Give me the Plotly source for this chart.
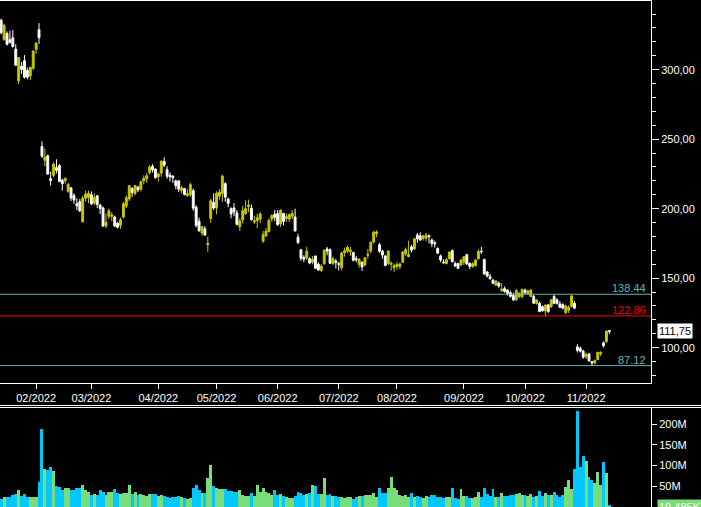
import pandas as pd
import plotly.graph_objects as go

# ---------------- data ----------------
holidays = ["2022-01-17", "2022-02-21", "2022-04-15", "2022-05-30",
            "2022-06-20", "2022-07-04", "2022-09-05"]
dates = [d.strftime("%Y-%m-%d") for d in pd.bdate_range("2022-01-13", "2022-11-11")
         if d.strftime("%Y-%m-%d") not in holidays]

opens = [
    335.5, 321.5, 326.0, 321.5, 322.9, 314.8, 292.0, 302.5, 306.5, 299.5, 295.5, 301.0,
    314.6, 328.8, 244.7, 234.8, 238.0, 221.6, 224.0, 229.5, 231.0, 220.5, 220.0, 212.5,
    215.0, 209.5, 203.5, 205.0, 190.5, 207.5, 208.0,
    210.0, 204.0, 209.3, 202.5, 200.5, 187.5, 194.5, 194.5, 194.0, 189.5, 188.0, 194.0,
    202.0, 207.0, 214.5, 211.0, 215.5, 214.0, 220.0, 221.5, 226.0, 230.5, 228.5,
    223.0, 225.5, 234.0, 228.0, 224.0, 223.5, 220.0, 220.0, 213.0, 214.5, 209.5, 210.0,
    213.0, 201.0, 191.0, 182.5, 185.5, 174.0, 193.0, 204.5,
    200.5, 209.0, 211.0, 218.0, 207.0, 200.0, 200.5, 197.0, 187.0, 192.0, 196.5, 201.5,
    200.3, 190.5, 191.5, 192.5, 176.5, 180.5, 183.5, 192.5, 196.0,
    196.5, 189.0, 196.5, 193.0, 192.5, 194.5, 194.0, 179.5, 170.5, 165.0, 164.5, 164.0,
    161.5, 166.0, 160.0, 155.5, 160.5, 171.0, 170.5, 160.5, 162.3,
    160.5, 157.5, 168.5, 169.5, 169.0, 168.5, 164.0, 160.0, 161.5, 159.5, 166.5, 169.5,
    176.0, 182.0, 174.0, 169.5, 166.0, 160.5, 160.0, 157.5,
    158.5, 158.2, 161.5, 167.5, 165.5, 172.5, 171.0, 181.0, 180.5, 178.5, 178.8, 180.5,
    177.5, 175.5, 171.5, 166.0, 161.5, 160.5, 164.0, 170.0, 160.5, 160.5, 159.5,
    161.5, 167.0, 160.5, 158.5, 159.0, 164.0, 169.5, 163.5, 154.5, 151.0, 148.5, 145.0,
    146.5, 140.9, 142.5, 141.5, 139.5, 137.5, 134.5, 136.8, 136.8,
    141.5, 139.0, 136.8, 136.8, 131.9, 131.9, 129.5, 126.5, 130.8, 129.6, 136.8, 134.4,
    131.5, 131.0, 125.3, 127.0, 129.6, 131.9, 100.5, 99.5, 97.5,
    93.5, 95.5, 90.0, 89.0, 91.5, 95.5, 103.5, 104.5, 112.3,
]
highs = [
    336.8, 333.0, 327.5, 328.0, 328.5, 318.3, 309.0, 305.5, 310.5, 301.5, 302.0, 314.0,
    319.9, 333.5, 248.5, 243.2, 239.0, 226.6, 233.5, 235.5, 232.0, 221.5, 222.5, 218.5,
    215.5, 211.0, 207.5, 207.0, 209.0, 213.0, 213.0,
    212.5, 211.0, 209.5, 203.5, 201.5, 196.5, 200.0, 197.5, 195.0, 190.5, 193.5, 205.0,
    209.5, 217.0, 215.5, 217.0, 216.5, 220.0, 224.0, 225.5, 231.5, 232.0, 229.0,
    226.0, 235.0, 236.9, 230.5, 226.0, 224.0, 221.0, 220.5, 216.5, 215.0, 214.0, 218.5,
    214.5, 202.5, 193.5, 187.5, 187.5, 180.0, 207.0, 211.0,
    212.5, 214.0, 224.5, 219.0, 208.0, 201.0, 204.0, 199.0, 193.0, 202.0, 206.0, 206.5,
    203.0, 195.0, 196.5, 197.5, 184.0, 186.0, 193.0, 195.8, 199.0,
    199.0, 199.5, 197.0, 196.5, 196.5, 199.0, 200.0, 182.0, 171.0, 166.5, 172.5, 165.0,
    166.0, 166.0, 161.5, 160.0, 170.5, 172.5, 171.5, 165.5, 164.0,
    162.0, 169.0, 172.0, 173.5, 172.5, 169.0, 166.0, 164.5, 162.0, 165.0, 171.0, 176.5,
    184.0, 184.5, 175.5, 170.5, 166.5, 170.0, 162.0, 160.5,
    161.5, 161.0, 169.5, 172.0, 177.0, 174.0, 179.0, 182.5, 183.0, 181.0, 182.5, 181.5,
    178.5, 177.0, 172.0, 167.0, 163.5, 164.5, 169.0, 170.5, 162.0, 161.0, 164.0,
    165.8, 167.5, 161.5, 161.5, 163.5, 171.0, 172.5, 164.0, 155.0, 153.0, 149.5, 148.5,
    147.5, 146.5, 144.0, 142.0, 141.0, 139.5, 142.0, 140.0, 142.5,
    142.5, 141.8, 142.0, 138.0, 134.5, 133.0, 130.5, 131.0, 131.5, 135.0, 138.5, 135.5,
    133.5, 132.0, 131.0, 130.5, 138.44, 133.5, 102.5, 101.0, 98.5,
    96.5, 96.0, 90.5, 91.5, 97.0, 97.5, 104.5, 112.5, 112.6,
]
lows = [
    325.5, 321.0, 317.5, 318.9, 315.9, 303.0, 289.5, 297.0, 293.5, 293.0, 292.5, 299.5,
    311.5, 318.5, 236.5, 230.5, 224.5, 216.6, 222.5, 225.4, 219.0, 213.0, 218.0, 211.5,
    205.5, 203.5, 199.0, 197.5, 190.2, 205.0, 204.0,
    202.5, 202.5, 200.5, 196.0, 187.0, 186.0, 192.5, 191.0, 186.6, 185.8, 185.5, 193.0,
    200.5, 205.5, 208.5, 209.5, 212.0, 212.5, 217.5, 218.5, 224.5, 226.0, 221.5,
    219.5, 223.0, 230.0, 221.5, 219.5, 218.5, 214.0, 212.0, 211.0, 209.5, 208.5, 208.5,
    198.5, 186.5, 183.5, 180.5, 180.5, 169.0, 190.0, 199.0,
    196.0, 206.5, 205.0, 205.0, 201.0, 193.0, 194.5, 188.0, 184.0, 189.5, 195.5, 197.5,
    191.3, 189.0, 186.0, 189.5, 175.5, 179.5, 183.0, 190.5, 191.0,
    187.5, 187.0, 188.0, 190.5, 190.5, 192.5, 183.5, 174.5, 162.5, 161.5, 163.0, 160.0,
    160.0, 156.5, 155.3, 154.3, 159.5, 166.5, 160.2, 159.5, 157.0,
    155.5, 155.5, 165.5, 168.0, 166.0, 162.0, 161.5, 157.5, 155.2, 158.5, 164.0, 168.0,
    175.0, 179.5, 168.0, 164.0, 158.5, 159.5, 155.5, 154.5,
    156.0, 156.5, 161.0, 166.0, 165.0, 168.5, 170.5, 175.5, 177.0, 177.0, 176.5, 175.0,
    172.5, 172.0, 167.5, 161.5, 160.5, 160.0, 163.5, 161.5, 158.0, 156.5, 159.0,
    159.5, 159.5, 156.5, 157.5, 158.5, 163.5, 167.5, 152.5, 150.5, 149.0, 146.0, 144.5,
    143.0, 140.5, 139.5, 137.5, 136.0, 133.5, 133.5, 135.5, 135.5,
    138.5, 138.0, 136.5, 131.5, 131.0, 125.5, 126.0, 122.2, 125.0, 128.5, 131.5, 131.0,
    128.5, 127.5, 124.0, 125.0, 129.0, 128.0, 96.5, 96.5, 92.0,
    92.0, 90.0, 87.12, 88.0, 91.0, 94.0, 100.0, 103.5, 109.8,
]
closes = [
    326.5, 331.9, 318.2, 319.6, 316.6, 303.2, 308.7, 300.2, 294.6, 294.6, 301.7, 313.3,
    319.0, 323.0, 237.8, 237.1, 224.9, 220.2, 232.0, 227.6, 219.6, 218.0, 221.8, 217.5,
    207.7, 206.2, 202.1, 198.5, 207.6, 210.5, 211.0,
    203.5, 208.1, 203.0, 200.1, 187.5, 190.3, 198.5, 195.5, 187.6, 186.6, 192.0, 203.6,
    207.8, 216.5, 211.5, 216.6, 213.5, 219.6, 221.8, 223.6, 229.9, 227.9, 222.4,
    224.9, 233.9, 231.3, 223.3, 223.0, 222.3, 216.5, 214.1, 215.0, 210.2, 210.8, 217.3,
    200.4, 188.0, 184.1, 187.0, 181.0, 175.0, 205.7, 200.5,
    211.1, 212.0, 223.4, 208.3, 203.8, 196.2, 197.7, 188.7, 191.2, 198.6, 200.0, 202.6,
    192.2, 191.3, 193.5, 196.2, 181.3, 183.8, 191.6, 195.1, 193.6,
    188.6, 198.9, 190.8, 194.3, 195.7, 196.6, 184.0, 175.6, 164.3, 163.7, 169.4, 160.9,
    163.7, 157.1, 155.9, 158.8, 170.2, 169.5, 160.7, 163.9, 161.3,
    160.0, 168.2, 169.8, 172.2, 170.3, 162.9, 163.3, 163.5, 158.1, 164.7, 167.2, 175.8,
    183.1, 183.2, 169.3, 166.7, 159.2, 169.6, 160.7, 159.1,
    159.9, 160.2, 168.8, 170.6, 167.1, 170.3, 178.3, 178.3, 177.5, 180.5, 180.9, 179.9,
    174.9, 174.7, 168.0, 163.1, 161.1, 163.3, 168.8, 161.8, 158.8, 157.2, 162.9,
    165.4, 160.3, 158.5, 160.4, 163.1, 169.2, 169.0, 153.1, 151.5, 149.6, 146.3, 148.0,
    144.4, 142.1, 140.5, 139.0, 137.0, 134.4, 141.0, 139.0, 141.9,
    139.5, 140.8, 141.5, 132.0, 134.4, 126.0, 126.5, 130.7, 126.0, 134.4, 131.9, 131.9,
    129.0, 128.5, 130.0, 129.0, 137.2, 128.4, 98.0, 97.5, 93.2,
    95.2, 90.5, 88.9, 90.8, 96.7, 96.5, 101.5, 111.9, 111.75,
]
volumes_m = [
    19, 23, 23, 23, 29, 31, 41, 27, 31, 25, 24, 23, 23, 60,
    188, 92, 89, 96, 87, 51, 49,
    42, 45, 47, 41, 41, 45, 47, 53, 41, 37,
    29, 31, 29, 41, 35, 29, 35, 35, 43, 33,
    31, 33, 33, 53, 31, 35, 29, 31, 29, 27, 31, 31, 31, 27,
    28, 27, 24, 22, 24, 23, 27, 23, 22, 20, 22,
    45, 53, 41, 33, 33, 71, 101, 51,
    47, 43, 43, 43, 38, 38, 35, 35, 40, 29, 27, 27,
    33, 27, 53, 35, 47, 35, 33, 29, 41, 29, 31, 27, 25, 22, 22,
    27, 35, 33, 29, 31, 33, 52, 50, 31, 31, 69, 29, 31, 27, 27, 25, 25, 22, 24, 23,
    19, 25, 27, 27, 28, 28, 30, 33, 24, 45, 33, 33, 45, 73, 45,
    41, 29, 27, 29, 23, 33, 25, 27, 25, 22, 27, 23, 29, 29, 25,
    23, 21, 25, 25, 45, 21, 20, 43, 26, 26, 22, 22, 24, 37, 24,
    45, 31, 26, 43, 25, 24, 33, 27, 27, 29, 30, 31, 33, 29, 30,
    27, 31, 25, 27, 38, 27, 33, 28, 29, 36, 28, 25,
    29, 48, 65, 43, 92, 231, 97, 123, 111, 72, 65, 59, 84, 53, 108, 82, 3,
]

price_ticks = [100, 150, 200, 250, 300]
price_tick_text = ["100,00", "150,00", "200,00", "250,00", "300,00"]
vol_ticks_m = [50, 100, 150, 200]
vol_tick_text = ["50M", "100M", "150M", "200M"]
level_values = [138.44, 122.86, 87.12]
level_texts = ["138.44", "122.86", "87.12"]
last_price = 111.75
last_price_text = "111,75"
last_volume_text = "19,485K"

# month ticks: first trading day of each month from February on
month_ticks, month_text = [], []
for d in dates:
    m = d[:7]
    if m != "2022-01" and (not month_ticks or month_ticks[-1][:7] != m):
        month_ticks.append(d)
        month_text.append(d[5:7] + "/" + d[:4])

# ---------------- styling ----------------
W, H = 701, 507
PLOT_R = 651
YEL = "#c8c800"
BLUE = "#00c8ff"
GREEN = "#78dc78"
TEAL = "#66b4b4"
RED = "#ff0000"
FONT = "Liberation Sans, Arial, sans-serif"

def py(px):  # pixel row -> paper y
    return (H - px) / H

def pxx(px):  # pixel column -> paper x (paper spans the plot area)
    return px / PLOT_R

spacing = 2.91
x_left = -1.2 / spacing
x_right = x_left + PLOT_R / spacing

fig = go.Figure()
fig.add_trace(go.Candlestick(
    x=dates, open=opens, high=highs, low=lows, close=closes,
    increasing=dict(line=dict(color=YEL, width=1), fillcolor=YEL),
    decreasing=dict(line=dict(color="#ffffff", width=1), fillcolor="#ffffff"),
    whiskerwidth=0, xaxis="x", yaxis="y", showlegend=False, hoverinfo="skip",
))
vol_colors = [GREEN if c >= o else BLUE for o, c in zip(opens, closes)]
fig.add_trace(go.Bar(
    x=dates, y=[v * 1e6 for v in volumes_m],
    marker=dict(color=vol_colors, line=dict(width=0)),
    xaxis="x2", yaxis="y2", showlegend=False, hoverinfo="skip",
))

axis_font = dict(family=FONT, size=11, color="#ffffff")

fig.update_layout(
    width=W, height=H, autosize=False,
    margin=dict(l=0, r=W - PLOT_R, t=0, b=0, pad=0),
    paper_bgcolor="#000000", plot_bgcolor="#000000",
    font=axis_font,
    boxgap=0.08, bargap=0,
    hovermode=False,
    xaxis=dict(
        type="category", domain=[0, 1], anchor="y", range=[x_left, x_right],
        automargin=False,
        rangeslider=dict(visible=False),
        showgrid=False, zeroline=False,
        showline=True, mirror=True, linecolor="#ffffff", linewidth=1,
        ticks="outside", ticklen=5, tickcolor="#ffffff", tickwidth=1,
        tickmode="array", tickvals=month_ticks, ticktext=month_text,
        tickfont=axis_font,
    ),
    yaxis=dict(
        domain=[py(383), py(1)], anchor="x", side="right",
        range=[74.6, 349.4], automargin=False,
        showgrid=False, zeroline=False,
        showline=True, linecolor="#ffffff", linewidth=1,
        ticks="outside", ticklen=7, tickcolor="#ffffff", tickwidth=1,
        tickmode="array", tickvals=price_ticks, ticktext=price_tick_text,
        tickfont=axis_font,
        minor=dict(dtick=10, tick0=0, ticks="outside", ticklen=4,
                   tickcolor="#ffffff", showgrid=False),
    ),
    xaxis2=dict(
        type="category", domain=[0, 1], anchor="y2", matches="x",
        automargin=False,
        showgrid=False, zeroline=False, showline=False,
        showticklabels=False, ticks="",
    ),
    yaxis2=dict(
        domain=[0, py(407)], anchor="x2", side="right",
        range=[0, 241e6], automargin=False,
        showgrid=False, zeroline=False,
        showline=True, linecolor="#ffffff", linewidth=1,
        ticks="outside", ticklen=5, tickcolor="#ffffff", tickwidth=1,
        tickmode="array", tickvals=[v * 1e6 for v in vol_ticks_m],
        ticktext=vol_tick_text, tickfont=axis_font,
    ),
)

shapes = []
level_colors = [TEAL, RED, TEAL]
for val, col in zip(level_values, level_colors):
    shapes.append(dict(type="line", xref="paper", yref="y", x0=0, x1=1,
                       y0=val, y1=val, line=dict(color=col, width=1)))
for prow in (405.5, 407.5):
    shapes.append(dict(type="line", xref="paper", yref="paper", x0=0, x1=pxx(W),
                       y0=py(prow), y1=py(prow), line=dict(color="#ffffff", width=1)))
fig.update_layout(shapes=shapes)

annotations = []
for val, txt, col in zip(level_values, level_texts, level_colors):
    annotations.append(dict(
        xref="paper", yref="y", x=pxx(PLOT_R - 3), y=val, text=txt,
        xanchor="right", yanchor="bottom", showarrow=False, yshift=-2,
        font=dict(family=FONT, size=11, color=col),
    ))
annotations.append(dict(
    xref="paper", yref="y", x=pxx(657), y=last_price, text=last_price_text,
    xanchor="left", yanchor="middle", showarrow=False,
    bgcolor="#ffffff", borderpad=1,
    font=dict(family=FONT, size=11, color="#000000"),
))
annotations.append(dict(
    xref="paper", yref="paper", x=pxx(657), y=py(499), text=last_volume_text,
    xanchor="left", yanchor="top", showarrow=False,
    bgcolor=GREEN, borderpad=1,
    font=dict(family=FONT, size=11, color="#ffffff"),
))
fig.update_layout(annotations=annotations)

fig.write_html(
    "out.html",
    config={"displayModeBar": False},
    post_script="document.body.style.margin='0px';document.body.style.backgroundColor='#000';",
)
